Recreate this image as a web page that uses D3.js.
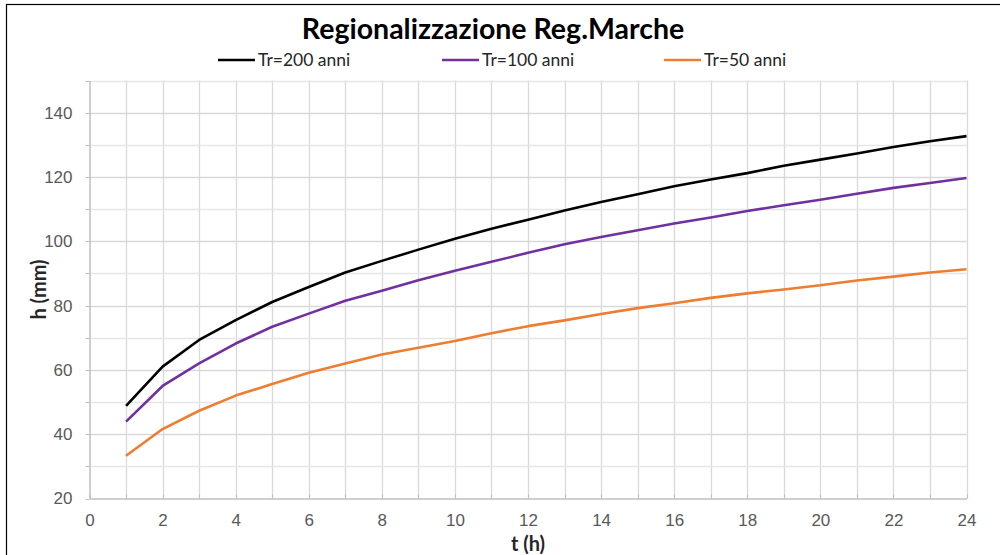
<!DOCTYPE html>
<html>
<head>
  <meta charset="utf-8">
  <title>Regionalizzazione Reg.Marche</title>
  <script src="https://d3js.org/d3.v7.min.js"></script>
  <style>
    body { margin: 0; background: #fff; }
    svg { display: block; font-family: Lato, "Open Sans", sans-serif; }
  </style>
</head>
<body>
<div id="chart"></div>
<script>
  "use strict";

  // durations (h)
  var hours = [1,2,3,4,5,6,7,8,9,10,11,12,13,14,15,16,17,18,19,20,21,22,23,24];

  // rainfall depth h (mm) for each return period
  var tr200 = [48.8,61.0,69.3,75.5,81.1,85.8,90.3,93.9,97.4,100.8,103.9,106.7,109.6,112.2,114.6,117.1,119.2,121.2,123.5,125.4,127.3,129.3,131.1,132.7];
  var tr100 = [43.9,55.0,62.0,68.2,73.4,77.5,81.5,84.6,87.9,90.8,93.6,96.4,99.1,101.3,103.4,105.5,107.4,109.4,111.2,112.9,114.8,116.6,118.1,119.7];
  var tr50  = [33.3,41.6,47.3,52.0,55.6,59.1,62.0,64.8,66.9,69.0,71.4,73.6,75.4,77.4,79.2,80.7,82.4,83.8,85.0,86.3,87.8,89.0,90.3,91.3];

  var seriesNames  = ["Tr=200 anni", "Tr=100 anni", "Tr=50 anni"];
  var seriesColors = ["#000000", "#7030a0", "#ed7d31"];
  var xTicks = [0,2,4,6,8,10,12,14,16,18,20,22,24];
  var yTicks = [20,40,60,80,100,120,140];

  var series = [tr200, tr100, tr50];

  var W = 1000, H = 555;
  var pLeft = 89.5, pRight = 966.5, pTop = 80.5, pBottom = 498.5;

  var svg = d3.select("#chart").append("svg")
      .attr("width", W)
      .attr("height", H);

  // chart frame
  svg.append("rect")
      .attr("x", 6.5).attr("y", 4.5)
      .attr("width", 1000).attr("height", 560)
      .attr("fill", "#fff")
      .attr("stroke", "#000")
      .attr("stroke-width", 1.2);

  var x = d3.scaleLinear().domain([0, 24]).range([pLeft, pRight]);
  var y = d3.scaleLinear().domain([20, 150]).range([pBottom, pTop]);

  /**
   * grid
   */
  var grid = svg.append("g").attr("class", "grid");
  grid.selectAll("line.v")
      .data(d3.range(1, 25))
      .enter().append("line")
        .attr("x1", function (d) { return Math.round(x(d)) + 0.5; })
        .attr("x2", function (d) { return Math.round(x(d)) + 0.5; })
        .attr("y1", pTop).attr("y2", pBottom)
        .attr("stroke", "#d9d9d9")
        .attr("stroke-width", 1.3);
  grid.selectAll("line.h")
      .data(d3.range(30, 151, 10))
      .enter().append("line")
        .attr("x1", pLeft).attr("x2", pRight)
        .attr("y1", function (d) { return Math.round(y(d)) + 0.5; })
        .attr("y2", function (d) { return Math.round(y(d)) + 0.5; })
        .attr("stroke", function (d) { return d % 20 === 0 ? "#d9d9d9" : "#e6e6e6"; })
        .attr("stroke-width", 1.3);

  /**
   * axes
   */
  var xAxis = d3.axisBottom(x).tickValues(xTicks).tickSize(0).tickPadding(15);
  var gx = svg.append("g")
      .attr("transform", "translate(0," + pBottom + ")")
      .call(xAxis);
  gx.select(".domain").attr("stroke", "#bfbfbf").attr("stroke-width", 1.5);
  gx.selectAll("text")
      .attr("fill", "#595959")
      .style("font-size", "17px");

  var yAxis = d3.axisLeft(y).tickValues(yTicks).tickSize(0).tickPadding(17);
  var gy = svg.append("g")
      .attr("transform", "translate(" + pLeft + ",0)")
      .call(yAxis);
  gy.select(".domain").attr("stroke", "#bfbfbf").attr("stroke-width", 1.5);
  gy.selectAll("text")
      .attr("fill", "#595959")
      .style("font-size", "17px");

  // little tick marks on the axes
  svg.append("g").selectAll("line")
      .data(d3.range(20, 151, 10))
      .enter().append("line")
        .attr("x1", pLeft - 4).attr("x2", pLeft)
        .attr("y1", function (d) { return Math.round(y(d)) + 0.5; })
        .attr("y2", function (d) { return Math.round(y(d)) + 0.5; })
        .attr("stroke", "#bfbfbf");
  svg.append("g").selectAll("line")
      .data(d3.range(0, 25))
      .enter().append("line")
        .attr("x1", function (d) { return Math.round(x(d)) + 0.5; })
        .attr("x2", function (d) { return Math.round(x(d)) + 0.5; })
        .attr("y1", pBottom - 4).attr("y2", pBottom)
        .attr("stroke", "#bfbfbf");

  // axis titles
  svg.append("text")
      .attr("x", (pLeft + pRight) / 2)
      .attr("y", 551)
      .attr("text-anchor", "middle")
      .attr("fill", "#262626")
      .style("font-size", "20px")
      .style("font-weight", "bold")
      .text("t (h)");

  svg.append("text")
      .attr("transform", "translate(46," + ((pTop + pBottom) / 2) + ") rotate(-90)")
      .attr("text-anchor", "middle")
      .attr("fill", "#262626")
      .style("font-size", "20px")
      .style("font-weight", "bold")
      .text("h (mm)");

  /**
   * lines
   */
  var line = d3.line()
      .x(function (d, i) { return x(hours[i]); })
      .y(function (d) { return y(d); });

  svg.append("g").selectAll("path")
      .data(series)
      .enter().append("path")
        .attr("d", line)
        .attr("fill", "none")
        .attr("stroke", function (d, i) { return seriesColors[i]; })
        .attr("stroke-width", 2.6)
        .attr("stroke-linejoin", "round");

  /**
   * title + legend
   */
  svg.append("text")
      .attr("x", 493)
      .attr("y", 39)
      .attr("text-anchor", "middle")
      .attr("fill", "#000")
      .style("font-size", "28.5px")
      .style("font-weight", "bold")
      .text("Regionalizzazione Reg.Marche");

  var legendX = [218, 442, 664];
  var legend = svg.append("g").selectAll("g")
      .data(seriesNames)
      .enter().append("g")
        .attr("transform", function (d, i) { return "translate(" + legendX[i] + ",60)"; });
  legend.append("line")
      .attr("x1", 0).attr("x2", 37)
      .attr("stroke", function (d, i) { return seriesColors[i]; })
      .attr("stroke-width", 2.6);
  legend.append("text")
      .attr("x", 40)
      .attr("y", 6)
      .attr("fill", "#262626")
      .style("font-size", "17.5px")
      .text(function (d) { return d; });
</script>
</body>
</html>
